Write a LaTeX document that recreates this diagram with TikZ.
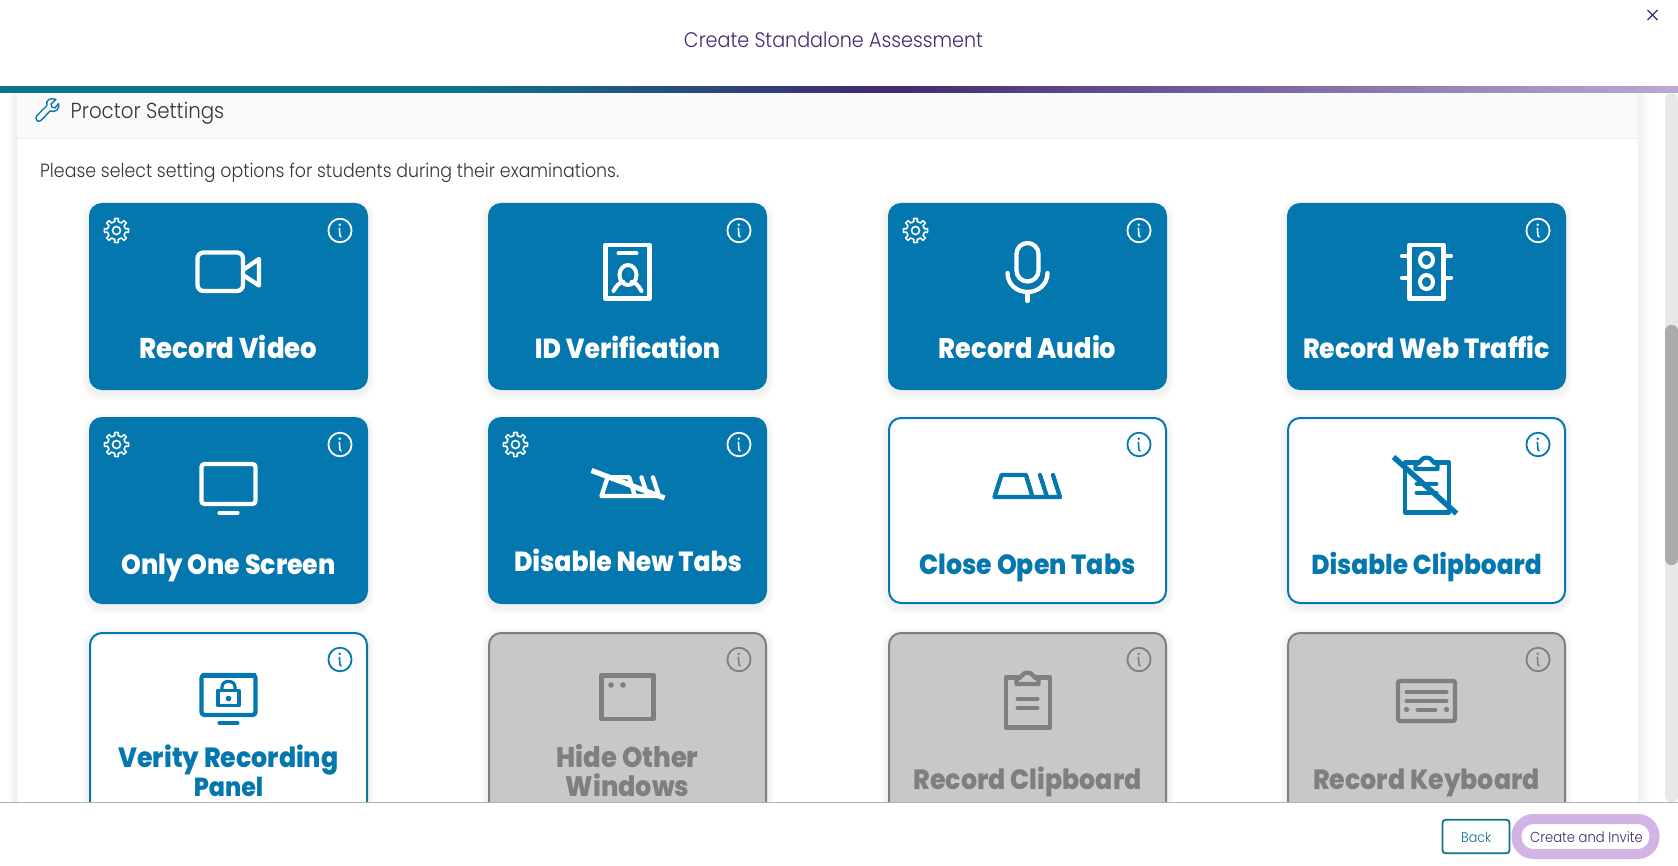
\documentclass[tikz,border=0pt]{standalone}
\usepackage{fontspec}
\usepackage{graphicx}
\setmainfont{Poppins}
\newfontfamily\lightf{Poppins Light}
\newfontfamily\heavyf{Poppins ExtraBold}
\definecolor{cardblue}{HTML}{0477AE}
\definecolor{cardgray}{HTML}{C8C8C8}
\definecolor{midgray}{HTML}{7F7F7F}
\definecolor{titlepurple}{HTML}{43296F}
\definecolor{barteal}{HTML}{0B7488}
\definecolor{barlilac}{HTML}{BBA9D3}
\definecolor{halo}{HTML}{D2B3E6}
\definecolor{bodytext}{HTML}{363636}
\pgfdeclarehorizontalshading{barshade}{100bp}{color(0bp)=(barteal);color(25bp)=(barteal);color(38.7bp)=(barteal);color(51.5bp)=(titlepurple);color(75bp)=(barlilac);color(100bp)=(barlilac)}
\tikzset{
  cardbase/.style={rectangle,rounded corners=12,inner sep=0,anchor=north,minimum width=277,minimum height=185,line width=2},
  solidcard/.style={cardbase,fill=cardblue,draw=cardblue},
  linecard/.style={cardbase,fill=white,draw=cardblue},
  graycard/.style={cardbase,fill=cardgray,draw=midgray},
  icon/.style={draw=#1,line width=4.3,line join=round,line cap=round},
  thin icon/.style={draw=#1,line width=1.8,line join=round,line cap=round},
  cardlabel/.style={anchor=base,inner sep=0},
  uitext/.style={anchor=base west,inner sep=0},
}
\newcommand\lab[2]{\resizebox{#1pt}{!}{\scalebox{1}[1.1]{\heavyf #2}}}
\newcommand\lig[2]{\resizebox{#1pt}{!}{\scalebox{1}[1.1]{\lightf #2}}}
\newcommand\softshadow[2]{%
  \foreach \k in {1,...,7}{%
    \fill[black,opacity=.009,rounded corners=12+\k] (#1-139.5-\k,#2+3-\k) rectangle (#1+139.5+\k,#2+190.5+\k);}}
\newcommand\infoicon[3]{% cx, top, colour
  \begin{scope}[shift={(#1+111.5,#2+27.5)}]
    \draw[thin icon=#3] (0,0) ellipse[x radius=11.6,y radius=11.8];
    \fill[#3] (-.3,-5.8) circle[radius=1.4];
    \draw[#3,line width=1.6,line cap=round] (-.6,-2.2) -- (-.1,5) -- (1,6.4);
  \end{scope}}
\newcommand\gearicon[2]{% cx, top
  \begin{scope}[shift={(#1-112,#2+27.5)}]
    \draw[white,line width=1.6,line join=round] (-22:8.8)
      \foreach \a in {0,45,...,315}{ -- (\a-11:9.2) -- (\a-8:12.3) -- (\a+8:12.3) -- (\a+11:9.2) -- (\a+22:8.8)} -- cycle;
    \draw[white,line width=1.6] (0,0) circle[radius=4];
  \end{scope}}
\newcommand\tabshape[1]{% colour
  \draw[icon=#1] (-33,80) -- (-26,58) -- (-1.5,58) -- (5,80) -- cycle;
  \draw[icon=#1] (12.5,58) -- (19.5,80);
  \draw[icon=#1] (25.5,58) -- (32.5,80) -- (5,80);}
\newcommand\clipboardshape[1]{% colour
  \draw[icon=#1] (-8,45.5) -- (-21.5,45.5) -- (-21.5,95.5) -- (22.5,95.5) -- (22.5,45.5) -- (8,45.5);
  \draw[icon=#1] (-11,52) -- (-11,47) .. controls (-8,46) and (-7,46) .. (-6,44) .. controls (-4,39.5) and (4,39.5) .. (6,44) .. controls (7,46) and (8,46) .. (11,47) -- (11,52) -- cycle;}
\newcommand\carditem[5]{% name, cx, top, kind, icon colour
  \softshadow{#2}{#3}
  \node[#4] (#1) at (#2,#3) {};
  \infoicon{#2}{#3}{#5}}
\begin{document}
\begin{tikzpicture}[x=1pt,y=-1pt]
\useasboundingbox (0,0) rectangle (1678,866);
\fill[white] (0,0) rectangle (1678,866);
% panel
\shade[left color=white,right color=black!7] (8,93) rectangle (17,802);
\shade[left color=black!5,right color=white] (1638,93) rectangle (1650,802);
\fill[black!2] (17,93) rectangle (1638,138);
\draw[black!7,line width=1] (17,138.5) -- (1638,138.5);
% wrench
\draw[cardblue,line width=1.4,line join=round]
  (37,115.5) -- (47,105.5) .. controls (45,100) and (51,97) .. (56,99.5) -- (51,104) -- (52,107) -- (55,108) -- (58.5,103.5)
  .. controls (60.5,109) and (55,113) .. (50,111) -- (41,120.5) .. controls (38,123.5) and (34,118.5) .. (37,115.5) -- cycle;
\node[uitext,text=bodytext] (proctor) at (70.5,119) {\lig{153.5}{Proctor Settings}};
\node[uitext,text=bodytext] (please) at (40,178) {\lig{579}{Please select setting options for students during their examinations.}};
% ---- row 1
\carditem{c1}{228.5}{203}{solidcard}{white}\gearicon{228.5}{203}
\begin{scope}[shift={(228.5,203)}]
  \draw[icon=white,rounded corners=6] (-31,49.5) rectangle (14.5,88);
  \draw[icon=white] (16,66) -- (30.5,56) -- (30.5,82.5) -- (16,73);
\end{scope}
\node[cardlabel,text=white] (t1) at (228.5,359) {\lab{177.5}{Record Video}};
\carditem{c2}{627.5}{203}{solidcard}{white}
\begin{scope}[shift={(627.5,203)}]
  \draw[icon=white] (-22,42) rectangle (22,95.5);
  \draw[white,line width=4,line cap=round] (-9,50.5) -- (9,50.5);
  \draw[white,line width=4] (0.5,72) ellipse[x radius=8.5,y radius=10];
  \draw[white,line width=4,line cap=round] (-14,88) .. controls (-11,82) and (-7,79) .. (-4,79);
  \draw[white,line width=4,line cap=round] (14,88) .. controls (11,82) and (7,79) .. (4,79);
\end{scope}
\node[cardlabel,text=white] (t2) at (627.5,359) {\lab{185}{ID Verification}};
\carditem{c3}{1027.5}{203}{solidcard}{white}\gearicon{1027.5}{203}
\begin{scope}[shift={(1027.5,203)}]
  \draw[icon=white,rounded corners=11] (-11,40) rectangle (11,78.5);
  \draw[icon=white] (-20,70) .. controls (-20,82) and (-10,89) .. (0,89) .. controls (10,89) and (20,82) .. (20,70);
  \draw[icon=white] (0,89) -- (0,98);
\end{scope}
\node[cardlabel,text=white] (t3) at (1027.5,359) {\lab{177.5}{Record Audio}};
\carditem{c4}{1426.5}{203}{solidcard}{white}
\begin{scope}[shift={(1426.5,203)}]
  \draw[icon=white] (-17,42) rectangle (17,95.5);
  \draw[white,line width=4] (0,57) ellipse[x radius=6.5,y radius=7];
  \draw[white,line width=4] (0,79) ellipse[x radius=6.5,y radius=7];
  \foreach \yy in {53,75}{\draw[icon=white] (-24.5,\yy) -- (-17,\yy);\draw[icon=white] (17,\yy) -- (24.5,\yy);}
\end{scope}
\node[cardlabel,text=white] (t4) at (1426.5,359) {\lab{247}{Record Web Traffic}};
% ---- row 2
\carditem{c5}{228.5}{417}{solidcard}{white}\gearicon{228.5}{417}
\begin{scope}[shift={(228.5,417)}]
  \draw[icon=white,rounded corners=3] (-27,47) rectangle (27,87);
  \draw[white,line width=4.2,line cap=round] (-9,96) -- (9,96);
\end{scope}
\node[cardlabel,text=white] (t5) at (228.5,574) {\lab{214.5}{Only One Screen}};
\carditem{c6}{627.5}{417}{solidcard}{white}\gearicon{627.5}{417}
\begin{scope}[shift={(627.5,417)}]
  \begin{scope}[shift={(3,11)},yscale=.85,xscale=.88]\tabshape{white}\end{scope}
  \draw[white,line width=5.2] (-36,53.5) -- (37,81);
\end{scope}
\node[cardlabel,text=white] (t6) at (628,571.7) {\lab{228}{Disable New Tabs}};
\carditem{c7}{1027.5}{417}{linecard}{cardblue}
\begin{scope}[shift={(1027.5,417)}]\tabshape{cardblue}\end{scope}
\node[cardlabel,text=cardblue] (t7) at (1027.5,574) {\lab{216}{Close Open Tabs}};
\carditem{c8}{1426.5}{417}{linecard}{cardblue}
\begin{scope}[shift={(1426.5,417)}]
  \clipboardshape{cardblue}
  \draw[cardblue,line width=4,line cap=round] (-10,66.5) -- (10,66.5);
  \draw[cardblue,line width=4,line cap=round] (-10,75.5) -- (10,75.5);
  \draw[cardblue,line width=5.4] (-33,40) -- (30,96.5);
\end{scope}
\node[cardlabel,text=cardblue] (t8) at (1426.5,574) {\lab{230.5}{Disable Clipboard}};
% ---- row 3
\carditem{c9}{228.5}{632}{linecard}{cardblue}
\begin{scope}[shift={(228.5,632)}]
  \draw[icon=cardblue,rounded corners=3] (-27,43) rectangle (27,83);
  \draw[cardblue,line width=5.4] (-27,43.5) -- (27,43.5);
  \draw[cardblue,line width=4.2,line cap=round] (-9,91) -- (9,91);
  \draw[icon=cardblue,line width=3.6] (-10.5,58.5) rectangle (10.5,73.5);
  \draw[cardblue,line width=3.2] (-6.5,58) -- (-6.5,55) .. controls (-6.5,47.5) and (6.5,47.5) .. (6.5,55) -- (6.5,58);
  \fill[cardblue] (0,66.5) circle[radius=2.8];
\end{scope}
\node[cardlabel,text=cardblue] (t9a) at (228.5,767) {\lab{220}{Verity Recording}};
\node[cardlabel,text=cardblue] (t9b) at (228.5,796) {\lab{69.5}{Panel}};
\carditem{c10}{627.5}{632}{graycard}{midgray}
\begin{scope}[shift={(627.5,632)}]
  \draw[icon=midgray] (-26,43) rectangle (26,87);
  \draw[midgray,line width=5.4] (-26,43.5) -- (26,43.5);
  \fill[midgray] (-16.5,53) circle[radius=2.8] (-4.5,53) circle[radius=2.8];
\end{scope}
\node[cardlabel,text=midgray] (t10a) at (627.5,767) {\lab{142}{Hide Other}};
\node[cardlabel,text=midgray] (t10b) at (627.5,796) {\lab{123.5}{Windows}};
\carditem{c11}{1027.5}{632}{graycard}{midgray}
\begin{scope}[shift={(1027.5,632)}]
  \clipboardshape{midgray}
  \draw[midgray,line width=4,line cap=round] (-10,66.5) -- (10,66.5);
  \draw[midgray,line width=4,line cap=round] (-10,75.5) -- (10,75.5);
\end{scope}
\node[cardlabel,text=midgray] (t11) at (1027.5,789) {\lab{228}{Record Clipboard}};
\carditem{c12}{1426.5}{632}{graycard}{midgray}
\begin{scope}[shift={(1426.5,632)}]
  \draw[icon=midgray,rounded corners=2] (-28.5,49) rectangle (28.5,89);
  \draw[midgray,line width=4,line cap=round] (-20,60) -- (20,60);
  \draw[midgray,line width=4,line cap=round] (-20,69) -- (20,69);
  \draw[midgray,line width=4,line cap=round] (-9,77.5) -- (9,77.5);
  \fill[midgray] (-20,77.5) circle[radius=2.6] (20,77.5) circle[radius=2.6];
\end{scope}
\node[cardlabel,text=midgray] (t12) at (1426.5,789) {\lab{226.5}{Record Keyboard}};
% ---- header
\fill[white] (0,0) rectangle (1678,87);
\node[anchor=base,inner sep=0,text=titlepurple] (title) at (833.5,47.5) {\lig{299}{Create Standalone Assessment}};
\coordinate (closea) at (1647.5,10);
\coordinate (closeb) at (1657.5,20);
\coordinate (closec) at (1657.5,10);
\coordinate (closed) at (1647.5,20);
\draw[titlepurple,line width=1.3] (closea) -- (closeb) (closec) -- (closed);
\shade[shading=barshade] (0,87) rectangle (1678,93);
% ---- scrollbar
\fill[black!9,rounded corners=6] (1665,93) rectangle (1678,802);
\fill[black!33,rounded corners=6] (1665,325) rectangle (1678,565);
% ---- footer
\fill[white] (0,802) rectangle (1678,866);
\draw[black!30,line width=1] (0,802) -- (1678,802);
\node[rectangle,draw=barteal,line width=1.8,rounded corners=3,fill=white,minimum width=67,minimum height=33.5,inner sep=0] (back) at (1476,836.5) {};
\node[uitext,text=barteal] (backlabel) at (1461,842) {\lig{30}{Back}};
\node[rectangle,draw=halo,line width=10,rounded corners=17,fill=white,minimum width=138,minimum height=35,inner sep=0] (create) at (1585.5,836.5) {};
\node[uitext,text=titlepurple] (createlabel) at (1530,842) {\lig{112.5}{Create and Invite}};
\end{tikzpicture}
\end{document}
